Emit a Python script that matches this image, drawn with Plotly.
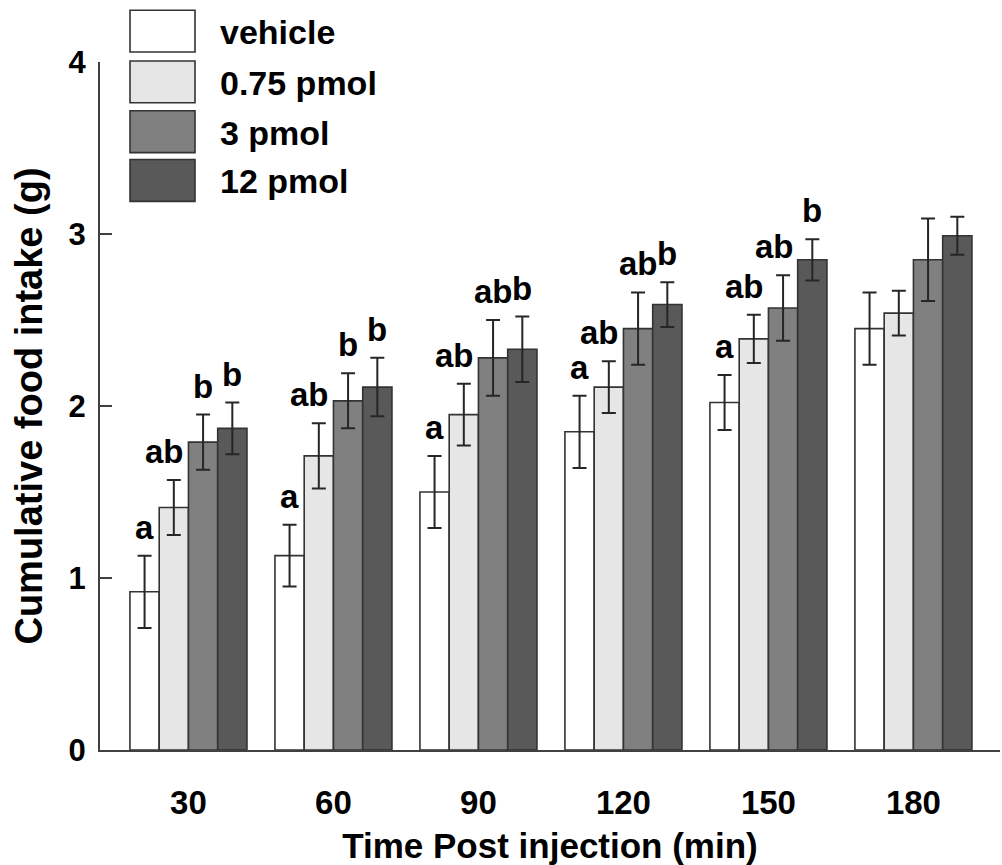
import plotly.graph_objects as go

# ---------------- data ----------------
time_labels = ["30", "60", "90", "120", "150", "180"]
series_names = ["vehicle", "0.75 pmol", "3 pmol", "12 pmol"]

vehicle = [0.92, 1.13, 1.50, 1.85, 2.02, 2.45]
vehicle_err = [0.21, 0.18, 0.21, 0.21, 0.16, 0.21]
pmol_075 = [1.41, 1.71, 1.95, 2.11, 2.39, 2.54]
pmol_075_err = [0.16, 0.19, 0.18, 0.15, 0.14, 0.13]
pmol_3 = [1.79, 2.03, 2.28, 2.45, 2.57, 2.85]
pmol_3_err = [0.16, 0.16, 0.22, 0.21, 0.19, 0.24]
pmol_12 = [1.87, 2.11, 2.33, 2.59, 2.85, 2.99]
pmol_12_err = [0.15, 0.17, 0.19, 0.13, 0.12, 0.11]

letters_vehicle = ["a", "a", "a", "a", "a", ""]
letters_075 = ["ab", "ab", "ab", "ab", "ab", ""]
letters_3 = ["b", "b", "ab", "ab", "ab", ""]
letters_12 = ["b", "b", "b", "b", "b", ""]

y_ticks = [0, 1, 2, 3, 4]

# ---------------- style ----------------
FONT = "Liberation Sans, Arial, sans-serif"
colors = ["#ffffff", "#e6e6e6", "#808080", "#595959"]
edge = "#333333"
W, H = 1002, 865
ML, MR, MT, MB = 100, 2, 62, 112
BARGAP = 0.193

means = [vehicle, pmol_075, pmol_3, pmol_12]
errs = [vehicle_err, pmol_075_err, pmol_3_err, pmol_12_err]
letters = [letters_vehicle, letters_075, letters_3, letters_12]
xs = list(range(len(time_labels)))

fig = go.Figure()
for name, m, e, c in zip(series_names, means, errs, colors):
    fig.add_trace(go.Bar(
        x=xs, y=m, name=name,
        marker=dict(color=c, line=dict(color=edge, width=1.6)),
        error_y=dict(type="data", array=e, visible=True,
                     color="#262626", thickness=2, width=7),
        showlegend=False,
    ))

# significance letters above error bars
bw = (1 - BARGAP) / len(series_names)
nudge = {(1, 0): -9, (1, 1): -9, (1, 2): -9, (1, 3): -9, (1, 4): -9, (2, 4): -9}
ann = []
for k in range(len(series_names)):
    for i in xs:
        t = letters[k][i]
        if not t:
            continue
        ann.append(dict(
            x=i + (k - (len(series_names) - 1) / 2) * bw,
            y=means[k][i] + errs[k][i],
            xref="x", yref="y", text=t, showarrow=False,
            xanchor="center", yanchor="bottom", yshift=8,
            xshift=nudge.get((k, i), 0),
            font=dict(family=FONT, size=33, color="black", weight="bold"),
        ))

# custom legend (large swatches), positioned in pixels converted to paper coords
pw, ph = W - ML - MR, H - MT - MB
def px(xp):
    return (xp - ML) / pw
def py(yp):
    return (H - MB - yp) / ph

shapes = []
row_top = [10, 61, 111, 160]
for name, c, top in zip(series_names, colors, row_top):
    shapes.append(dict(type="rect", xref="paper", yref="paper",
                       x0=px(130), x1=px(195), y0=py(top + 42), y1=py(top),
                       fillcolor=c, line=dict(color=edge, width=1.6)))
    ann.append(dict(x=px(218), y=py(top + 22), xref="paper", yref="paper",
                    text=name, showarrow=False, xanchor="left", yanchor="middle",
                    font=dict(family=FONT, size=34, color="black", weight="bold")))

fig.update_layout(
    width=W, height=H,
    margin=dict(l=ML, r=MR, t=MT, b=MB, pad=0),
    paper_bgcolor="white", plot_bgcolor="white",
    barmode="group", bargap=BARGAP, bargroupgap=0,
    annotations=ann, shapes=shapes,
    font=dict(family=FONT, color="black"),
)
fig.update_xaxes(
    range=[-0.61, 5.597], tickvals=xs, ticktext=time_labels,
    showline=True, linecolor="#404040", linewidth=2, ticks="",
    showgrid=False, zeroline=False, ticklabelstandoff=22,
    tickfont=dict(family=FONT, size=33, color="black", weight="bold"),
    title=dict(text="Time Post injection (min)", standoff=18,
               font=dict(family=FONT, size=35, color="black", weight="bold")),
)
fig.update_yaxes(
    range=[0, 4], tickvals=y_ticks,
    showline=True, linecolor="#404040", linewidth=2,
    ticks="inside", ticklen=12, tickwidth=2, tickcolor="#404040",
    showgrid=False, zeroline=False, ticklabelstandoff=6,
    tickfont=dict(family=FONT, size=31, color="black", weight="bold"),
    title=dict(text="Cumulative food intake (g)", standoff=14,
               font=dict(family=FONT, size=38, color="black", weight="bold")),
)

fig.write_html("out.html")
